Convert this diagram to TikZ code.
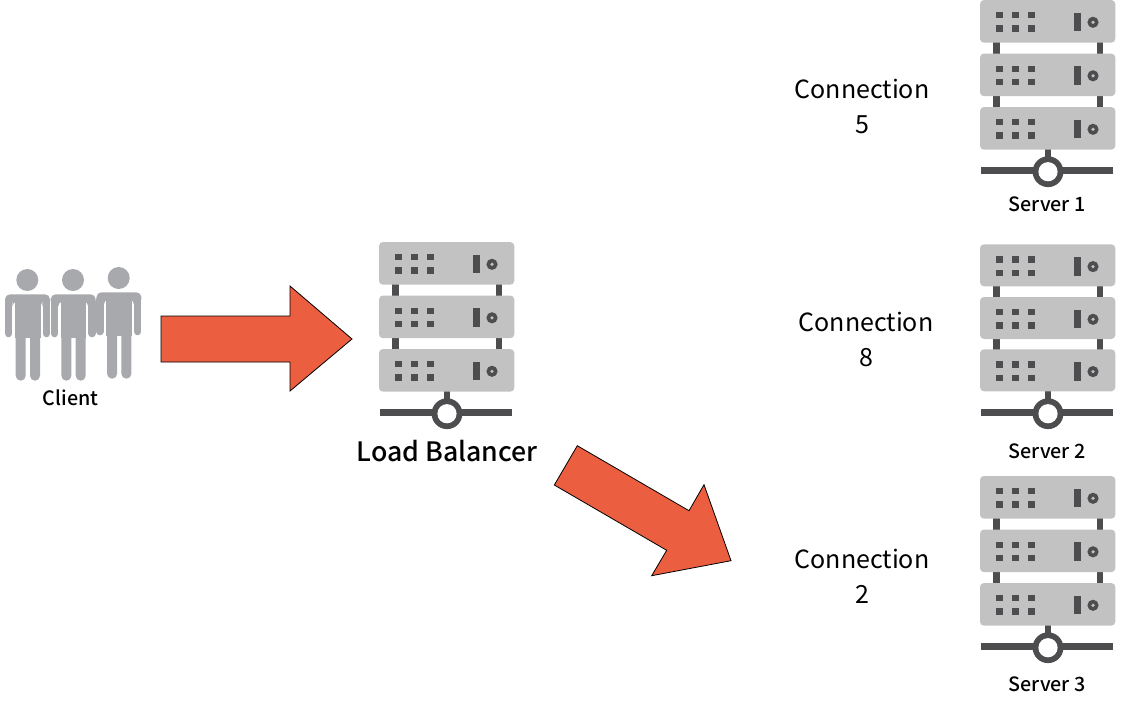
\documentclass[tikz,border=0pt]{standalone}
\usepackage{fontspec}
\setmainfont{Noto Sans CJK SC}
\newfontfamily\labelfont{Noto Sans CJK SC Medium}
\definecolor{srvbox}{HTML}{C2C2C2}
\definecolor{srvdark}{HTML}{4D4D4F}
\definecolor{person}{HTML}{A7A9AC}
\definecolor{arrowfill}{HTML}{EB5F40}
\tikzset{
  x=1pt,y=-1pt,
  unit/.style={fill=srvbox,rounded corners=4pt},
  dark/.style={fill=srvdark},
  bigarrow/.style={fill=arrowfill,draw=black,line width=0.8pt,line join=miter},
  small/.style={font=\labelfont\fontsize{19.7}{23}\selectfont,text=black,inner sep=0pt,anchor=center},
  conn/.style={font=\fontsize{25}{35}\selectfont,text=black,align=center,inner sep=0pt,anchor=center},
  pics/serverrack/.style n args={4}{code={
    \fill[dark] (13,40) rectangle (19.5,110);
    \fill[dark] (116.5,40) rectangle (123,110);
    \fill[dark] (64.7,145) rectangle (71.3,165);
    \foreach \yy in {#1,#2,#3}{
      \fill[unit] (0,\yy) rectangle (135.3,\yy+#4);
      \foreach \xx in {16,32.2,48.2}{
        \fill[dark] (\xx,\yy+12) rectangle +(6.6,6.4);
        \fill[dark] (\xx,\yy+25.2) rectangle +(6.6,6.4);
      }
      \fill[dark] (94,\yy+12.7) rectangle +(6.7,18.6);
      \fill[dark] (113,\yy+22.3) circle (5.6);
      \fill[srvbox] (113,\yy+22.3) circle (1.8);
    }
    \fill[dark] (1,167) rectangle (133.3,173.7);
    \fill[dark] (68,171.7) circle (15.4);
    \fill[white] (68,171.7) circle (9.6);
  }},
  pics/human/.style={code={
    \fill[person] (0,0) circle (11);
    \draw[person,line width=7.4pt,line cap=round] (-18.6,22) -- (-18.6,53.6);
    \draw[person,line width=7.4pt,line cap=round] (19,22) -- (19,53.6);
    \fill[person,rounded corners=5pt] (-22.3,26) -- (-22.3,14.3) -- (22.7,14.3) -- (22.7,26) -- (15.3,26) -- (15.3,21.5) -- (-14.9,21.5) -- (-14.9,26) -- cycle;
    \fill[person] (-12.3,16) rectangle (13.4,58);
    \fill[person,rounded corners=5pt] (-11.6,50) -- (-11.6,100.7) -- (-1.6,100.7) -- (-1.6,50) -- cycle;
    \fill[person,rounded corners=5pt] (2.7,50) -- (2.7,100.7) -- (12.7,100.7) -- (12.7,50) -- cycle;
  }}
}
\begin{document}
\begin{tikzpicture}
\useasboundingbox (0,0) rectangle (1126,702);
% clients
\pic at (27.3,280) {human};
\pic at (73,280) {human};
\pic at (118.7,278) {human};
\node[small] (client) at (70.5,398) {Client};
% arrows
\path[bigarrow] (161,316) -- (290,316) -- (290,286) -- (352,339) -- (290,391) -- (290,362) -- (161,362) -- cycle;
\path[bigarrow] (577.3,445.7) -- (689,510.7) -- (704,484.7) -- (731,560.7) -- (651.7,575.7) -- (666.7,550.3) -- (554.3,485) -- cycle;
% racks
\pic at (379,242) {serverrack={0}{53.5}{107}{42.7}};
\pic at (980,0) {serverrack={0}{53.5}{107}{42.7}};
\pic at (980,242) {serverrack={2.3}{55}{107.3}{42}};
\pic at (980,476) {serverrack={0}{53.5}{107}{42.7}};
\node[small,font=\labelfont\fontsize{26.7}{30}\selectfont] (lb) at (447,451) {Load Balancer};
\node[small] (s1) at (1047,204) {Server 1};
\node[small] (s2) at (1047,451) {Server 2};
\node[small] (s3) at (1047,684) {Server 3};
\node[conn] (c1) at (862,106.5) {Connection\\5};
\node[conn] (c2) at (866,339.5) {Connection\\8};
\node[conn] (c3) at (862,576.5) {Connection\\2};
\end{tikzpicture}
\end{document}
